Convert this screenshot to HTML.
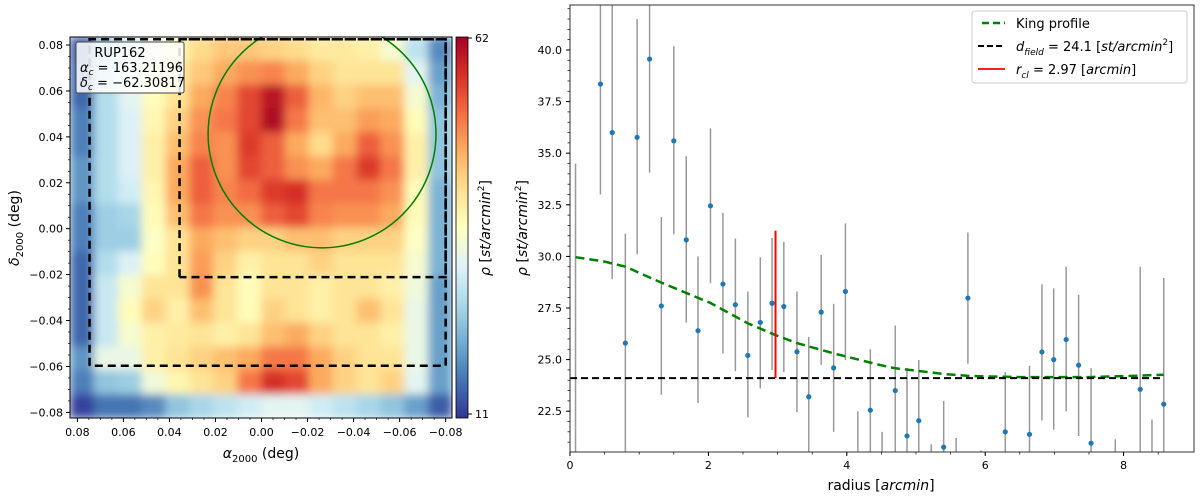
<!DOCTYPE html>
<html><head><meta charset="utf-8">
<style>
html,body{margin:0;padding:0;background:#fff;width:1200px;height:497px;overflow:hidden;}
svg{display:block;font-family:"DejaVu Sans","Liberation Sans",sans-serif;}
</style></head>
<body>
<svg id="fig" width="1200" height="497" viewBox="0 0 1200 497" xmlns="http://www.w3.org/2000/svg">
<defs>
  <clipPath id="leftclip"><rect x="70" y="37" width="382" height="381"/></clipPath>
  <clipPath id="rightclip"><rect x="570" y="5" width="624" height="447"/></clipPath>
  <filter id="smooth" x="70" y="37" width="382" height="381" filterUnits="userSpaceOnUse">
    <feGaussianBlur stdDeviation="4.5" edgeMode="duplicate"/>
  </filter>
  <linearGradient id="cbgrad" x1="0" y1="1" x2="0" y2="0">
    <stop offset="0" stop-color="#313695"/><stop offset="0.1" stop-color="#4575b4"/>
    <stop offset="0.2" stop-color="#74add1"/><stop offset="0.3" stop-color="#abd9e9"/>
    <stop offset="0.4" stop-color="#e0f3f8"/><stop offset="0.5" stop-color="#ffffbf"/>
    <stop offset="0.6" stop-color="#fee090"/><stop offset="0.7" stop-color="#fdae61"/>
    <stop offset="0.8" stop-color="#f46d43"/><stop offset="0.9" stop-color="#d73027"/>
    <stop offset="1" stop-color="#a50026"/>
  </linearGradient>
</defs>
<g id="left">
  <g clip-path="url(#leftclip)"><g id="heat" filter="url(#smooth)"></g></g>
  <g id="leftover" clip-path="url(#leftclip)"></g>
  <rect x="70" y="37" width="382" height="381" fill="none" stroke="#000" stroke-width="1"/>
  <g id="leftaxes"></g>
  <g>
    <rect x="76" y="42" width="108" height="51" fill="#fff" fill-opacity="0.85" stroke="#444" stroke-width="1" rx="2"/>
    <text x="120" y="57" font-size="13" text-anchor="middle">RUP162</text>
    <text x="80" y="72" font-size="13"><tspan font-style="italic">α</tspan><tspan font-size="9" dy="3" font-style="italic">c</tspan><tspan dy="-3"> = 163.21196</tspan></text>
    <text x="80" y="87" font-size="13"><tspan font-style="italic">δ</tspan><tspan font-size="9" dy="3" font-style="italic">c</tspan><tspan dy="-3"> = −62.30817</tspan></text>
  </g>
  <text x="261" y="458" font-size="14" text-anchor="middle"><tspan font-style="italic">α</tspan><tspan font-size="10" dy="4">2000</tspan><tspan dy="-4"> (deg)</tspan></text>
  <text transform="translate(19,228) rotate(-90)" font-size="14" text-anchor="middle"><tspan font-style="italic">δ</tspan><tspan font-size="10" dy="4">2000</tspan><tspan dy="-4"> (deg)</tspan></text>
  <rect x="456" y="37" width="12" height="381" fill="url(#cbgrad)" stroke="#000" stroke-width="0.8"/>
  <line x1="468" y1="38" x2="472" y2="38" stroke="#000"/><line x1="468" y1="414" x2="472" y2="414" stroke="#000"/>
  <text x="475" y="42" font-size="11">62</text>
  <text x="475" y="418" font-size="11">11</text>
  <text transform="translate(490,228) rotate(-90)" font-size="14" text-anchor="middle"><tspan font-style="italic">ρ</tspan> [<tspan font-style="italic">st/arcmin</tspan><tspan font-size="9" dy="-6">2</tspan><tspan dy="6">]</tspan></text>
</g>
<g id="right">
  <g id="rplot" clip-path="url(#rightclip)"></g>
  <rect x="570" y="5" width="624" height="447" fill="none" stroke="#333" stroke-width="1"/>
  <g id="raxes"></g>
  <text x="881" y="490" font-size="14" text-anchor="middle">radius [<tspan font-style="italic">arcmin</tspan>]</text>
  <text transform="translate(527,228) rotate(-90)" font-size="14" text-anchor="middle"><tspan font-style="italic">ρ</tspan> [<tspan font-style="italic">st/arcmin</tspan><tspan font-size="9" dy="-6">2</tspan><tspan dy="6">]</tspan></text>
  <g>
    <rect x="972" y="11" width="215" height="72" fill="#fff" stroke="#ccc" stroke-width="1" rx="3"/>
    <g>
      <line x1="982" y1="23" x2="1005" y2="23" stroke="#008000" stroke-width="2.5" stroke-dasharray="7,4"/>
      <text x="1016" y="28" font-size="13">King profile</text>
    </g>
    <g>
      <line x1="978" y1="46" x2="1005" y2="46" stroke="#000" stroke-width="2" stroke-dasharray="6,3"/>
      <text x="1016" y="51" font-size="13"><tspan font-style="italic">d</tspan><tspan font-size="9" dy="4" font-style="italic">field</tspan><tspan dy="-4"> = 24.1 [</tspan><tspan font-style="italic">st/arcmin</tspan><tspan font-size="9" dy="-6">2</tspan><tspan dy="6">]</tspan></text>
    </g>
    <g>
      <line x1="978" y1="69" x2="1005" y2="69" stroke="#ff0000" stroke-width="1.8"/>
      <text x="1016" y="74" font-size="13"><tspan font-style="italic">r</tspan><tspan font-size="9" dy="4" font-style="italic">cl</tspan><tspan dy="-4"> = 2.97 [</tspan><tspan font-style="italic">arcmin</tspan>]</text>
    </g>
  </g>
</g>
</svg>
<script>
// ---------- LEFT: density map data ----------
const gridRows = [
 [14,24,30,33,38,42,44,44,43,42,40,40,39,35,28,18],
 [15,27,32,36,40,44,47,49,50,47,43,41,41,41,32,20],
 [15,27,32,37,41,47,50,55,60,53,46,43,45,45,35,22],
 [17,27,31,38,43,49,51,55,61,51,45,45,48,47,37,24],
 [17,27,31,39,45,50,49,56,53,47,42,47,53,49,39,24],
 [19,27,31,39,47,53,49,55,53,49,47,51,56,51,39,24],
 [19,27,30,38,47,53,50,52,56,57,51,51,51,49,37,22],
 [17,25,26,37,45,51,49,49,53,55,50,49,49,47,37,22],
 [17,25,25,36,41,47,45,43,43,45,45,43,43,43,36,22],
 [15,27,31,37,41,48,43,39,41,41,43,41,41,41,35,22],
 [15,29,35,41,41,49,41,37,41,41,39,41,41,39,34,20],
 [15,29,37,43,39,45,41,37,43,41,39,41,45,41,33,20],
 [15,29,35,39,40,41,39,41,45,47,43,41,41,39,33,20],
 [19,33,33,39,41,43,45,47,51,51,47,43,41,41,33,20],
 [17,24,25,34,38,41,43,51,57,55,47,43,41,43,32,20],
 [12,16,16,18,24,26,28,30,32,32,30,28,26,24,20,14]
];
const cmin = 11, cmax = 62;
const raTicks = [0.08,0.06,0.04,0.02,0.00,-0.02,-0.04,-0.06,-0.08];
const decTicks = [0.08,0.06,0.04,0.02,0.00,-0.02,-0.04,-0.06,-0.08];
const circleCenter = [-0.0263, 0.0413];
const circleRadius = 0.0495;
const outerBox = [0.0747, -0.08, 0.0825, -0.0597];
const innerBox = [0.0356, -0.08, 0.0825, -0.0211];

const NS='http://www.w3.org/2000/svg';
function mk(tag, attrs, parent){const e=document.createElementNS(NS,tag);for(const k in attrs)e.setAttribute(k,attrs[k]);if(parent)parent.appendChild(e);return e;}
const raX = v => 261.5 - v*2302;
const decY = v => 228.7 - v*2296;
const cmap=['#313695','#4575b4','#74add1','#abd9e9','#e0f3f8','#ffffbf','#fee090','#fdae61','#f46d43','#d73027','#a50026'];
function hex(h){return [parseInt(h.slice(1,3),16),parseInt(h.slice(3,5),16),parseInt(h.slice(5,7),16)];}
function colorOf(v){let t=(v-cmin)/(cmax-cmin);t=Math.max(0,Math.min(1,t))*10;const i=Math.min(9,Math.floor(t)),f=t-i;const a=hex(cmap[i]),b=hex(cmap[i+1]);return 'rgb('+a.map((c,k)=>Math.round(c+(b[k]-c)*f)).join(',')+')';}

const heat=document.getElementById('heat');
const nR=gridRows.length, nC=gridRows[0].length;
const cw=382/nC, ch=381/nR;
gridRows.forEach((row,r)=>row.forEach((v,c)=>{
  const e=mk('rect',{x:70+c*cw,y:37+r*ch,width:cw+0.5,height:ch+0.5,fill:colorOf(v)},heat);
  
  
}));

const over=document.getElementById('leftover');
const circ=mk('circle',{cx:raX(circleCenter[0]),cy:decY(circleCenter[1]),r:circleRadius*2302,fill:'none',stroke:'#008000','stroke-width':1.5},over);


function box(b,name){
  const x1=raX(b[0]),x2=Math.min(451,raX(b[1])),y1=Math.max(38,decY(b[2])),y2=decY(b[3]);
  const p=mk('path',{d:`M${x1},${y2} L${x1},${y1} L${x2},${y1} L${x2},${y2} L${x1},${y2}`,fill:'none',stroke:'#000','stroke-width':2.5,'stroke-dasharray':'8,5'},over);
  
  
}
box(outerBox,'outer-region-box');
box(innerBox,'inner-region-box');

const lax=document.getElementById('leftaxes');
raTicks.forEach(v=>{const x=raX(v);mk('line',{x1:x,y1:418,x2:x,y2:422,stroke:'#000'},lax);
  const t=mk('text',{x:x,y:436,'font-size':11,'text-anchor':'middle'},lax);t.textContent=(v<0?'−':'')+Math.abs(v).toFixed(2);
  
  });
decTicks.forEach(v=>{const y=decY(v);mk('line',{x1:66,y1:y,x2:70,y2:y,stroke:'#000'},lax);
  const t=mk('text',{x:63,y:y+4,'font-size':11,'text-anchor':'end'},lax);t.textContent=(v<0?'−':'')+Math.abs(v).toFixed(2);
  
  });
for(let v=-0.08;v<=0.0801;v+=0.005){mk('line',{x1:raX(v),y1:418,x2:raX(v),y2:420,stroke:'#000','stroke-width':0.7},lax);mk('line',{x1:68,y1:decY(v),x2:70,y2:decY(v),stroke:'#000','stroke-width':0.7},lax);}

// ---------- RIGHT: radial profile data ----------
const radii   = [0.08,0.44,0.61,0.80,0.97,1.15,1.32,1.50,1.68,1.85,2.03,2.21,2.39,2.57,2.75,2.92,3.09,3.28,3.45,3.63,3.81,3.98,4.16,4.34,4.51,4.70,4.87,5.04,5.22,5.40,5.58,5.75,5.94,6.29,6.64,6.82,6.99,7.17,7.35,7.53,7.88,8.24,8.41,8.58];
const density = [20.0,38.35,36.0,25.8,35.77,39.56,27.6,35.6,30.8,26.4,32.45,28.66,27.66,25.2,26.8,27.73,27.57,25.38,23.2,27.3,24.6,28.3,19.0,22.55,18.5,23.5,21.3,22.04,18.0,20.76,18.0,27.98,17.0,21.5,21.38,25.37,25.0,25.97,24.73,20.95,18.0,23.56,18.0,22.84];
const errUp   = [34.5,43.0,43.0,31.1,41.5,43.0,31.9,40.18,34.85,30.0,36.2,32.1,30.87,28.3,29.96,30.9,30.7,28.3,26.1,30.07,27.7,31.6,22.5,25.5,21.5,26.65,24.6,24.98,20.9,23.0,21.2,31.16,20.6,24.4,24.7,28.65,28.45,29.5,28.15,24.58,21.14,29.5,22.1,28.96];
const errLo   = [10.0,33.0,28.9,15.0,30.1,34.06,23.3,31.07,26.8,22.9,28.7,25.3,24.44,22.2,23.6,24.5,24.4,22.45,15.0,24.75,21.5,24.98,10.0,15.0,10.0,15.0,15.0,15.0,10.0,15.0,10.0,24.8,10.0,15.0,15.0,22.05,21.6,22.5,21.3,15.0,10.0,15.0,10.0,15.0];
const kingR   = [0.08,0.5,0.8,1.32,2.03,2.57,2.96,3.28,3.81,4.48,4.70,5.04,5.40,5.79,6.5,7.5,8.2,8.58];
const kingRho = [29.96,29.75,29.5,28.73,27.74,26.76,26.2,25.8,25.3,24.74,24.58,24.45,24.3,24.2,24.15,24.15,24.22,24.27];
const dField = 24.1, dFieldEnd = 8.55;
const rCore = 2.97, rCoreTop = 31.24;
const xTicks = [0,2,4,6,8];
const yTicks = [22.5,25.0,27.5,30.0,32.5,35.0,37.5,40.0];

const rx = v => 570 + v*69.2;
const ry = v => 50 + (40 - v)*20.64;
const rp=document.getElementById('rplot');
radii.forEach((r,i)=>{
  const e=mk('line',{x1:rx(r),x2:rx(r),y1:ry(errUp[i]),y2:ry(errLo[i]),stroke:'#999','stroke-width':1.5},rp);
  
  
});
const kd=kingR.map((r,i)=>(i?'L':'M')+rx(r).toFixed(1)+','+ry(kingRho[i]).toFixed(1)).join(' ');
const kp=mk('path',{d:kd,fill:'none',stroke:'#008000','stroke-width':2.5,'stroke-dasharray':'9,5'},rp);


const fl=mk('line',{x1:570,x2:rx(dFieldEnd),y1:ry(dField),y2:ry(dField),stroke:'#000','stroke-width':2,'stroke-dasharray':'7,4'},rp);


const rl=mk('line',{x1:rx(rCore),x2:rx(rCore),y1:ry(dField),y2:ry(rCoreTop),stroke:'#ff0000','stroke-width':2},rp);


radii.forEach((r,i)=>{
  const c=mk('circle',{cx:rx(r),cy:ry(density[i]),r:2.6,fill:'#1f77b4'},rp);
  
  
});
const rax=document.getElementById('raxes');
xTicks.forEach(v=>{const x=rx(v);mk('line',{x1:x,y1:452,x2:x,y2:456,stroke:'#000'},rax);
  const t=mk('text',{x:x,y:469,'font-size':11,'text-anchor':'middle'},rax);t.textContent=v;
  
  });
for(let v=0.5;v<9;v+=0.5){mk('line',{x1:rx(v),y1:452,x2:rx(v),y2:454.5,stroke:'#000','stroke-width':0.7},rax);}
yTicks.forEach(v=>{const y=ry(v);mk('line',{x1:566,y1:y,x2:570,y2:y,stroke:'#000'},rax);
  const t=mk('text',{x:562,y:y+4,'font-size':11,'text-anchor':'end'},rax);t.textContent=v.toFixed(1);
  
  });
for(let v=21;v<42.2;v+=0.5){mk('line',{x1:567.5,y1:ry(v),x2:570,y2:ry(v),stroke:'#000','stroke-width':0.7},rax);}
</script>
</body></html>
